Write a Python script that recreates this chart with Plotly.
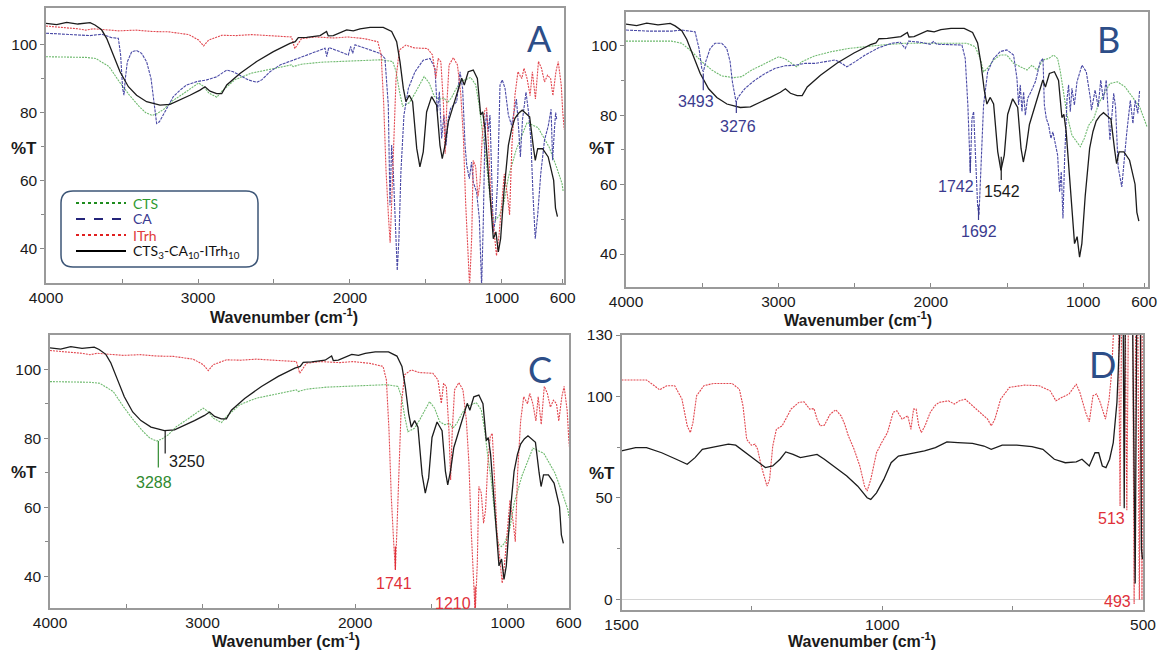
import plotly.graph_objects as go

W, H = 1158, 652

# ---------------- data ----------------
# composite CTS3-CA10-ITrh10 (panels A, B, C)
comp_wn = [4000, 3930, 3864, 3790, 3710, 3678, 3634, 3601, 3557, 3513, 3458, 3404, 3338, 3250, 3184,
           3118, 3053, 2987, 2954, 2921, 2877, 2844, 2811, 2724, 2614, 2504, 2395, 2360, 2340, 2285,
           2197, 2154, 2143, 2110, 2022, 1978, 1934, 1868, 1781, 1726, 1693, 1671, 1649, 1632, 1610,
           1588, 1561, 1540, 1518, 1496, 1463, 1430, 1408, 1393, 1375, 1353, 1320, 1287, 1265, 1248,
           1222, 1189, 1162, 1140, 1127, 1112, 1090, 1068, 1057, 1040, 1024, 1009, 987, 958, 936,
           915, 891, 867, 843, 818, 794, 781, 765, 733, 696, 660, 648, 635]
comp_t = [106.2, 105.8, 106.5, 106.0, 106.4, 105.7, 104.3, 101.8, 96.9, 92.0, 87.6, 85.1, 83.2, 82.2, 82.4,
          83.7, 85.1, 86.6, 87.6, 86.3, 85.6, 85.6, 88.1, 91.5, 95.0, 97.9, 100.3, 100.8, 102.0, 102.1,
          102.6, 103.8, 102.5, 102.6, 104.3, 104.0, 104.6, 105.0, 105.0, 103.8, 100.8, 94.9, 87.1, 83.2, 85.1,
          83.2, 69.5, 64.1, 68.5, 80.2, 84.7, 82.2, 70.4, 66.5, 70.4, 77.3, 82.2, 87.1, 90.1, 88.1,
          92.0, 92.5, 90.0, 79.3, 80.2, 75.3, 62.6, 47.9, 43.0, 45.0, 39.1, 43.0, 56.7, 70.4, 75.3,
          78.3, 79.8, 80.7, 79.7, 78.8, 70.0, 66.0, 69.4, 69.4, 67.0, 60.1, 52.0, 49.5]

# ITrh (panels A, C)
itrh_wn = [4000, 3900, 3847, 3790, 3738, 3690, 3629, 3520, 3411, 3300, 3192, 3100, 3061, 2996, 2963,
           2930, 2843, 2750, 2647, 2500, 2385, 2363, 2341, 2319, 2232, 2101, 2014, 1905, 1817, 1795,
           1778, 1763, 1747, 1736, 1726, 1712, 1697, 1675, 1632, 1577, 1490, 1457, 1435, 1420, 1402,
           1385, 1374, 1363, 1348, 1320, 1293, 1271, 1254, 1239, 1223, 1213, 1199, 1189, 1173, 1158,
           1145, 1130, 1114, 1101, 1086, 1071, 1053, 1036, 1020, 1000, 985, 965, 950, 935, 915,
           895, 870, 855, 835, 815, 800, 780, 760, 740, 720, 700, 680, 665, 645, 630,
           610, 600, 590]
itrh_t = [105.4, 104.9, 104.8, 104.6, 104.2, 104.6, 104.4, 104.0, 104.2, 103.8, 103.7, 103.2, 102.9, 101.3, 99.6,
          101.3, 102.7, 102.6, 102.9, 102.5, 102.2, 98.8, 100.3, 101.7, 102.2, 101.9, 102.2, 101.7, 100.8, 96.9,
          82.4, 63.1, 49.6, 41.8, 53.4, 72.8, 90.1, 98.4, 99.8, 99.0, 98.8, 96.9, 90.1, 95.9, 94.9,
          82.4, 67.9, 82.4, 94.0, 96.1, 94.0, 85.3, 72.8, 53.4, 37.0, 29.0, 43.8, 66.0, 64.1, 55.4,
          59.2, 72.8, 80.5, 81.4, 67.9, 53.4, 45.7, 38.0, 43.8, 55.0, 62.0, 56.0, 50.0, 70.0, 85.0,
          92.0, 90.0, 93.0, 90.0, 85.0, 92.0, 84.0, 95.0, 93.0, 89.0, 91.0, 90.0, 85.0, 92.0, 95.0,
          88.0, 80.0, 75.0]

# CTS (panels A, C)
cts_wn = [4000, 3738, 3673, 3585, 3520, 3454, 3389, 3345, 3301, 3269, 3225, 3170, 3105, 3040, 2996,
          2963, 2930, 2876, 2843, 2756, 2647, 2537, 2385, 2374, 2319, 2188, 2014, 1795, 1719, 1697,
          1675, 1654, 1632, 1610, 1577, 1544, 1512, 1479, 1446, 1413, 1381, 1359, 1333, 1304, 1271,
          1239, 1206, 1173, 1151, 1130, 1108, 1086, 1064, 1042, 1020, 988, 957, 908, 835, 763,
          690, 641, 605, 598]
cts_t = [96.4, 96.2, 95.9, 93.5, 89.2, 85.3, 81.9, 80.0, 79.2, 79.7, 81.0, 83.4, 85.3, 87.4, 88.7,
         87.7, 85.8, 84.5, 86.3, 89.7, 91.6, 92.6, 94.0, 93.5, 94.2, 94.8, 95.2, 95.5, 95.0, 92.1,
         86.3, 81.9, 82.4, 82.9, 85.3, 88.2, 90.6, 88.7, 84.8, 83.9, 84.3, 82.9, 84.3, 86.8, 89.2,
         89.7, 90.3, 88.2, 82.4, 74.7, 67.9, 58.3, 49.6, 48.6, 49.6, 53.4, 61.2, 68.9, 77.1, 75.6,
         69.9, 64.0, 59.2, 57.0]

# CA (panel A)
caA_wn = [4000, 3820, 3711, 3634, 3568, 3524, 3509, 3496, 3487, 3478, 3465, 3436, 3404, 3371, 3338,
          3309, 3294, 3283, 3272, 3254, 3228, 3195, 3162, 3118, 3075, 3009, 2943, 2877, 2811, 2768,
          2724, 2669, 2614, 2581, 2526, 2460, 2373, 2285, 2219, 2164, 2153, 2140, 2066, 2011, 1996,
          1982, 1967, 1934, 1868, 1803, 1770, 1748, 1737, 1726, 1715, 1697, 1689, 1678, 1665, 1645,
          1616, 1572, 1518, 1474, 1441, 1425, 1412, 1397, 1382, 1368, 1353, 1338, 1320, 1298, 1276,
          1259, 1243, 1232, 1215, 1200, 1189, 1167, 1149, 1134, 1123, 1112, 1101, 1090, 1079, 1068,
          1057, 1042, 1028, 1013, 998, 980, 958, 937, 919, 905, 890, 879, 865, 842, 825,
          810, 795, 781, 765, 745, 720, 696, 677, 667, 655, 647, 640]
caA_t = [103.3, 102.8, 102.6, 103.0, 102.0, 101.8, 96.9, 87.1, 85.1, 90.0, 94.9, 97.9, 98.2, 97.4, 94.9,
         90.0, 85.1, 80.2, 76.8, 77.3, 79.3, 82.2, 84.7, 86.6, 88.1, 89.1, 89.6, 90.5, 92.5, 92.0,
         91.0, 89.6, 88.9, 89.6, 92.0, 94.0, 95.4, 96.9, 97.9, 98.9, 96.4, 99.1, 97.9, 96.9, 99.4,
         97.4, 99.9, 99.4, 98.4, 97.4, 95.9, 82.2, 52.8, 70.5, 62.6, 41.0, 33.7, 43.0, 62.6, 79.3,
         87.1, 92.0, 95.4, 95.9, 93.0, 80.2, 86.1, 72.4, 79.3, 70.4, 78.3, 81.2, 82.2, 83.2, 92.0,
         87.1, 70.4, 64.6, 60.6, 65.5, 59.6, 56.7, 48.9, 29.0, 47.9, 74.4, 80.2, 74.4, 79.3, 62.6,
         45.0, 48.9, 60.6, 88.1, 89.6, 87.1, 79.3, 76.3, 80.2, 84.0, 75.0, 67.0, 78.0, 86.0, 80.0,
         72.0, 55.0, 43.0, 50.0, 62.0, 72.0, 76.0, 81.0, 66.0, 75.0, 80.0, 78.0]

# CA (panel B)
caB_wn = [4000, 3853, 3700, 3634, 3547, 3521, 3503, 3492, 3477, 3448, 3416, 3372, 3339, 3317, 3302,
          3289, 3278, 3262, 3219, 3153, 3087, 3021, 2956, 2890, 2825, 2759, 2693, 2627, 2584, 2551,
          2496, 2431, 2343, 2255, 2201, 2168, 2146, 2070, 2004, 1982, 1960, 1873, 1796, 1774, 1757,
          1741, 1730, 1719, 1708, 1693, 1684, 1671, 1654, 1627, 1588, 1544, 1501, 1457, 1435, 1424,
          1413, 1402, 1391, 1380, 1365, 1343, 1314, 1282, 1264, 1255, 1242, 1227, 1212, 1199, 1183,
          1168, 1155, 1144, 1133, 1122, 1106, 1096, 1085, 1074, 1058, 1041, 1008, 980, 953, 946,
          922, 902, 885, 868, 849, 825, 800, 788, 771, 747, 715, 691, 674, 659, 642, 630]
caB_t = [104.5, 104.2, 104.2, 104.5, 104.0, 99.2, 93.5, 92.5, 95.4, 99.2, 100.7, 100.7, 99.2, 95.4, 89.6,
         85.8, 83.8, 85.3, 87.7, 90.1, 92.0, 93.5, 94.2, 94.4, 94.9, 94.9, 95.4, 95.9, 94.9, 93.9,
         95.4, 97.3, 99.4, 100.7, 101.0, 99.2, 101.3, 101.0, 100.4, 101.2, 100.4, 100.4, 100.2, 96.3, 82.9,
         63.7, 79.0, 81.0, 68.5, 54.0, 51.2, 63.7, 82.9, 92.5, 96.3, 98.3, 98.8, 97.3, 90.6, 82.9,
         88.7, 81.0, 86.7, 80.0, 84.8, 86.7, 89.6, 95.4, 96.3, 82.9, 79.0, 77.1, 73.3, 75.2, 71.3,
         68.5, 57.9, 63.7, 50.2, 67.5, 84.8, 88.7, 81.0, 87.7, 82.9, 89.6, 94.4, 92.5, 84.8, 81.4,
         87.2, 82.4, 90.1, 84.3, 90.1, 72.8, 86.3, 82.4, 65.1, 59.3, 74.7, 84.3, 77.6, 84.3, 80.5, 87.2]

# CTS (panel B)
ctsB_wn = [4000, 3700, 3634, 3569, 3503, 3437, 3372, 3295, 3240, 3175, 3109, 3043, 2999, 2956, 2912,
           2879, 2846, 2759, 2649, 2540, 2321, 2168, 1763, 1709, 1676, 1654, 1627, 1588, 1544, 1501,
           1457, 1413, 1369, 1336, 1303, 1264, 1227, 1194, 1168, 1150, 1128, 1106, 1074, 1041, 1019,
           993, 964, 931, 898, 825, 776, 727, 679, 630, 581]
ctsB_t = [101.3, 101.3, 100.7, 98.3, 95.4, 93.0, 91.3, 90.8, 91.1, 93.0, 94.4, 95.9, 96.8, 96.2, 94.9,
          93.9, 95.4, 97.1, 98.3, 99.2, 100.2, 100.7, 100.7, 99.7, 96.3, 92.5, 93.5, 95.9, 97.3, 97.3,
          94.9, 93.9, 93.0, 94.4, 93.0, 95.9, 96.3, 97.3, 96.3, 92.5, 86.7, 80.0, 74.2, 72.3, 70.9,
          73.3, 77.1, 79.0, 83.4, 89.1, 89.6, 88.2, 85.3, 82.4, 76.6]

# ITrh (panel D)
itrhD_wn = [1500, 1452, 1437, 1427, 1413, 1398, 1384, 1374, 1368, 1363, 1356, 1342, 1324, 1288, 1274,
            1267, 1260, 1251, 1244, 1239, 1232, 1224, 1221, 1216, 1210, 1203, 1192, 1185, 1175, 1160,
            1150, 1139, 1131, 1125, 1119, 1111, 1100, 1089, 1079, 1072, 1065, 1054, 1043, 1034, 1029,
            1022, 1011, 1001, 990, 979, 972, 962, 951, 945, 940, 935, 930, 925, 918, 908,
            898, 891, 880, 873, 862, 852, 841, 827, 813, 798, 791, 784, 773, 756, 727,
            699, 678, 667, 656, 642, 628, 621, 610, 603, 596, 589, 582, 572, 565, 560,
            556, 552, 547, 544, 541, 534, 531, 528, 520, 517, 514, 510, 507, 504, 502, 500]
itrhD_t = [107.9, 107.9, 105.1, 103.1, 105.1, 105.1, 98.5, 85.4, 82.1, 87.0, 100.2, 105.1, 106.2, 106.2, 103.4,
           95.2, 78.8, 75.9, 76.4, 73.9, 65.7, 57.5, 55.8, 59.1, 75.5, 83.7, 85.4, 88.7, 93.6, 96.9,
           97.2, 93.6, 93.9, 88.7, 85.4, 85.7, 91.1, 93.3, 90.3, 86.2, 80.5, 73.9, 65.7, 55.8, 53.4,
           59.1, 72.2, 77.2, 82.1, 92.0, 92.8, 88.7, 90.3, 83.7, 93.6, 93.6, 85.4, 82.1, 85.4, 92.0,
           95.6, 96.9, 97.2, 97.7, 96.1, 97.7, 98.5, 95.2, 92.0, 88.7, 85.4, 88.7, 98.5, 104.3, 105.4,
           105.1, 102.6, 97.7, 99.3, 101.0, 105.9, 101.8, 92.0, 87.4, 100.2, 101.0, 96.9, 88.7, 98.5, 112.0,
           135.0, 140.0, 140.0, 46.0, 140.0, 140.0, 44.0, 140.0, 140.0, -2.0, 140.0, 140.0, 0.0, 140.0, 0.0, 140.0]

# composite (panel D)
compD_wn = [1500, 1473, 1452, 1423, 1395, 1374, 1359, 1345, 1324, 1295, 1281, 1267, 1246, 1224, 1210,
            1196, 1185, 1171, 1157, 1139, 1125, 1111, 1089, 1068, 1047, 1029, 1022, 1011, 997, 983,
            969, 955, 940, 919, 898, 876, 855, 827, 805, 791, 770, 742, 713, 692, 670,
            649, 628, 617, 603, 592, 585, 578, 571, 564, 557, 550, 546, 543, 538, 536,
            534, 520, 515, 512, 505, 503, 501]
compD_t = [73.1, 74.7, 74.7, 72.2, 69.0, 66.5, 69.8, 73.9, 75.0, 76.4, 75.9, 73.1, 69.0, 64.9, 65.7,
           69.0, 72.6, 71.4, 69.8, 70.9, 71.4, 69.0, 64.9, 60.8, 55.8, 50.1, 49.3, 52.5, 59.1, 67.3,
           70.6, 71.4, 72.2, 73.1, 74.7, 77.5, 77.2, 76.8, 75.5, 73.9, 75.9, 75.9, 75.2, 73.9, 69.0,
           67.3, 67.7, 69.0, 65.7, 72.2, 72.2, 65.7, 64.9, 69.0, 77.2, 96.9, 121.5, 140.0, 140.0, 45.0,
           140.0, 140.0, 8.0, 140.0, 140.0, 25.0, 20.0]

# tick labels
ticks_ir = [4000, 3000, 2000, 1000, 600]
ticks_d = [1500, 1000, 500]
ticks_t = [100, 80, 60, 40]
ticks_td = [130, 100, 50, 0]

# ---------------- styling ----------------
FONT = "Liberation Sans, Arial, sans-serif"
SANS2 = "Lato, Open Sans, sans-serif"
C_GREEN = "#6fba6f"
C_BLUE = "#4a4aa6"
C_RED = "#e2474f"
C_BLACK = "#1c1c1c"
C_LETTER = "#2d4e88"

fig = go.Figure()


def add(x, y, xa, ya, color, dash, width):
    fig.add_trace(go.Scatter(x=x, y=y, xaxis=xa, yaxis=ya, mode="lines",
                             line=dict(color=color, dash=dash, width=width),
                             showlegend=False, hoverinfo="skip"))


# Panel A
add(cts_wn, cts_t, "x", "y", C_GREEN, "2px,1px", 1.1)
add(caA_wn, caA_t, "x", "y", C_BLUE, "3px,1px", 1.1)
add(itrh_wn, itrh_t, "x", "y", C_RED, "2px,1px", 1.1)
add(comp_wn, comp_t, "x", "y", C_BLACK, "solid", 1.3)
# Panel B
add(ctsB_wn, ctsB_t, "x2", "y2", C_GREEN, "2px,1px", 1.1)
add(caB_wn, caB_t, "x2", "y2", C_BLUE, "3px,1px", 1.1)
add(comp_wn, comp_t, "x2", "y2", C_BLACK, "solid", 1.3)
# Panel C
add(cts_wn, cts_t, "x3", "y3", C_GREEN, "2px,1px", 1.1)
add(itrh_wn, itrh_t, "x3", "y3", C_RED, "2px,1px", 1.1)
add(comp_wn, comp_t, "x3", "y3", C_BLACK, "solid", 1.3)
# Panel D
add(itrhD_wn, itrhD_t, "x4", "y4", C_RED, "2px,1px", 1.1)
add(compD_wn, compD_t, "x4", "y4", C_BLACK, "solid", 1.3)


def px(x):
    return x / W


def py(y):
    return 1 - y / H


def xaxis(dom, rng, tv, minor, anchor):
    return dict(domain=dom, range=rng, anchor=anchor, automargin=False,
                tickvals=tv, ticktext=[str(v) for v in tv],
                ticks="inside", ticklen=4, tickcolor="#888", tickwidth=1,
                minor=dict(tickvals=minor, ticks="inside", ticklen=4, tickcolor="#888"),
                showline=True, linecolor="#9a9a9a", linewidth=1.5, mirror=True,
                showgrid=False, zeroline=False,
                tickfont=dict(family=FONT, size=15.5, color="#1a1a1a"))


def yaxis(dom, rng, tv, minor, anchor, zero=False):
    return dict(domain=dom, range=rng, anchor=anchor, automargin=False,
                tickvals=tv, ticktext=[str(v) for v in tv],
                ticks="outside", ticklen=4, tickcolor="#888", tickwidth=1,
                minor=dict(tickvals=minor, ticks="outside", ticklen=3, tickcolor="#888"),
                showline=True, linecolor="#9a9a9a", linewidth=1.5, mirror=True,
                showgrid=False, zeroline=zero, zerolinecolor="#d4d4d4", zerolinewidth=1,
                tickfont=dict(family=FONT, size=15.5, color="#1a1a1a"))


fig.update_layout(
    width=W, height=H, autosize=False,
    margin=dict(l=0, r=0, t=0, b=0, pad=0),
    paper_bgcolor="white", plot_bgcolor="white",
    xaxis=xaxis([px(46), px(564)], [4000, 592], ticks_ir, [3500, 2500, 1500], "y"),
    yaxis=yaxis([py(283), py(8)], [30, 110.7], ticks_t, [90, 70, 50], "x"),
    xaxis2=xaxis([px(626), px(1148)], [4000, 575], ticks_ir, [3500, 2500, 1500], "y2"),
    yaxis2=yaxis([py(287), py(12)], [30.5, 109.7], ticks_t, [90, 70, 50], "x2"),
    xaxis3=xaxis([px(50), px(569)], [4000, 598], ticks_ir, [3500, 2500, 1500], "y3"),
    yaxis3=yaxis([py(608), py(335)], [30.8, 109.9], ticks_t, [90, 70, 50], "x3"),
    xaxis4=xaxis([px(621.5), px(1143)], [1500, 500], ticks_d, [1250, 750], "y4"),
    yaxis4=yaxis([py(610), py(335)], [-5, 130], ticks_td, [25, 75], "x4", zero=True),
)

ann = []
shapes = []

# axis titles, %T labels and panel letters
for (xx, yy) in [(284, 316), (858, 319), (286, 640), (862, 640)]:
    ann.append(dict(x=px(xx), y=py(yy), xref="paper", yref="paper",
                    text="<b>Wavenumber (cm<sup>-1</sup>)</b>", showarrow=False,
                    font=dict(family=FONT, size=16, color="#1a1a1a"), xanchor="center", yanchor="middle"))
for (xx, yy) in [(24, 148), (602, 148), (24, 472), (602, 473)]:
    ann.append(dict(x=px(xx), y=py(yy), xref="paper", yref="paper", text="<b>%T</b>", showarrow=False,
                    font=dict(family=FONT, size=17, color="#1a1a1a"), xanchor="center", yanchor="middle"))
for (lab, xx, yy) in [("A", 539, 38), ("B", 1108, 39), ("C", 540, 369), ("D", 1102, 364)]:
    ann.append(dict(x=px(xx), y=py(yy), xref="paper", yref="paper", text=lab, showarrow=False,
                    font=dict(family=SANS2, size=36, color=C_LETTER), xanchor="center", yanchor="middle"))

# peak labels (data coordinates) with their marker ticks
C_NAVY_T = "#3b3b8f"
C_GREEN_T = "#2f8a2f"
C_RED_T = "#e0303a"
peak_labels = [
    ("x2", "y2", "3493", 3540, 84.0, C_NAVY_T, 3493, 92.0, 87.2),
    ("x2", "y2", "3276", 3262, 76.7, C_NAVY_T, 3276, 84.0, 80.6),
    ("x2", "y2", "1742", 1835, 59.5, C_NAVY_T, 1741, 67.5, 63.3),
    ("x2", "y2", "1692", 1682, 46.5, C_NAVY_T, 1687, 54.0, 49.8),
    ("x2", "y2", "1542", 1531, 57.9, "#1a1a1a", 1538, 68.0, 61.3),
    ("x3", "y3", "3250", 3105, 73.2, "#1a1a1a", 3245, 82.3, 75.6),
    ("x3", "y3", "3288", 3321, 67.1, C_GREEN_T, 3290, 79.2, 71.5),
    ("x3", "y3", "1741", 1745, 38.0, C_RED_T, 1736, 48.6, 41.8),
    ("x3", "y3", "1210", 1359, 32.2, C_RED_T, 1213, 37.0, 30.8),
    ("x4", "y4", "513", 560, 39.7, C_RED_T, None, None, None),
    ("x4", "y4", "493", 549, -0.8, C_RED_T, None, None, None),
]
for xa, ya, txt, tx, ty, col, lx, ly0, ly1 in peak_labels:
    ann.append(dict(x=tx, y=ty, xref=xa, yref=ya, text=txt, showarrow=False,
                    font=dict(family=FONT, size=16, color=col), xanchor="center", yanchor="middle"))
    if lx is not None:
        shapes.append(dict(type="line", xref=xa, yref=ya, x0=lx, x1=lx, y0=ly0, y1=ly1,
                           line=dict(color=col, width=1.2)))

# legend box (panel A)
x0, x1, y0, y1, r = 61, 258, 191, 267, 12


def P(x, y):
    return f"{px(x):.5f},{py(y):.5f}"


path = (f"M{P(x0 + r, y0)} L{P(x1 - r, y0)} Q{P(x1, y0)} {P(x1, y0 + r)} "
        f"L{P(x1, y1 - r)} Q{P(x1, y1)} {P(x1 - r, y1)} L{P(x0 + r, y1)} "
        f"Q{P(x0, y1)} {P(x0, y1 - r)} L{P(x0, y0 + r)} Q{P(x0, y0)} {P(x0 + r, y0)} Z")
shapes.append(dict(type="path", xref="paper", yref="paper", path=path,
                   line=dict(color="#3d5677", width=1.5), fillcolor="white", layer="above"))

legend_items = [
    ("CTS", "#2f9a2f", "#1e8c1e", "dot", 203),
    ("CA", "#3a3a90", "#24247a", "dash", 219),
    ("ITrh", "#e03c3c", "#e02020", "dot", 235),
    ("CTS<sub>3</sub>-CA<sub>10</sub>-ITrh<sub>10</sub>", "#111111", "#000000", "solid", 251),
]
for txt, tcol, lcol, dash, yy in legend_items:
    shapes.append(dict(type="line", xref="paper", yref="paper", x0=px(76), x1=px(126), y0=py(yy), y1=py(yy),
                       line=dict(color=lcol, width=2, dash=dash), layer="above"))
    ann.append(dict(x=px(131), y=py(yy), xref="paper", yref="paper", text=txt, showarrow=False,
                    font=dict(family=SANS2, size=14, color=tcol), xanchor="left", yanchor="middle"))

fig.update_layout(annotations=ann, shapes=shapes)
fig.write_html("out.html", config={"displayModeBar": False},
               post_script="document.body.style.margin='0';document.body.style.overflow='hidden';")
